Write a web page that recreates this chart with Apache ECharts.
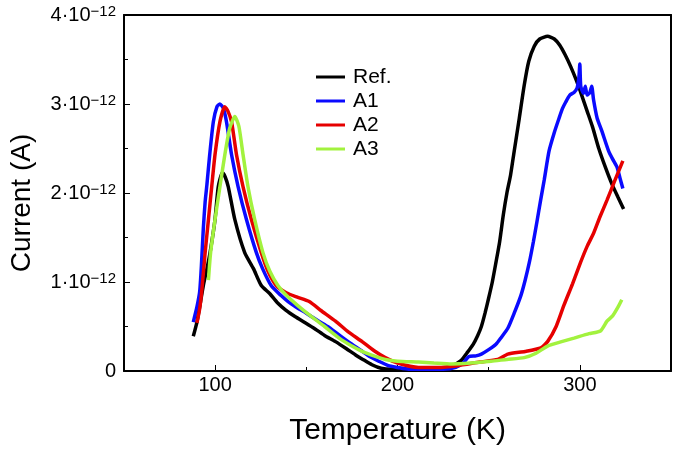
<!DOCTYPE html>
<html>
<head>
<meta charset="utf-8">
<script src="https://cdn.jsdelivr.net/npm/echarts@6/dist/echarts.min.js"></script>
<style>html,body{margin:0;padding:0;background:#fff}#c{width:675px;height:451px}</style>
</head>
<body>
<div id="c"></div>
<script>
// Temperature (K) and current (units of 1e-12 A)
const refT = [88,90,92,93.5,95.5,97.2,99.9,101.7,104,105.5,107.2,110.8,116.2,121,125.3,129.9,134,138.7,144,149.6,155,160,166,172,177,181,186,191,197,205,215,225,230,235,238,241.5,244,246,248,250,252,254,256,258,260,262,264,266.8,269.5,272,275,278,282.3,286,289,292,295,298,301,304,307,310.4,314,317.6,321,324];
const refI = [0.39,0.55,0.78,0.96,1.15,1.33,1.70,2.07,2.23,2.18,2.07,1.70,1.33,1.15,0.96,0.87,0.77,0.685,0.61,0.54,0.47,0.40,0.33,0.25,0.18,0.13,0.07,0.03,0.02,0.02,0.02,0.03,0.06,0.12,0.2,0.3,0.4,0.5,0.65,0.82,1.0,1.22,1.45,1.75,2.0,2.2,2.47,2.84,3.21,3.48,3.65,3.73,3.76,3.73,3.66,3.55,3.42,3.27,3.10,2.92,2.74,2.50,2.29,2.10,1.95,1.82];

const a1T = [88,90,91.5,92.5,93.5,94.5,95.5,97,99,101,102.6,104.5,106.2,109,112.6,117.2,122.6,126,130.7,136,140,144.3,150,156,162.5,169,175,180,185,189.7,195,200,206,215,225,232,236,239,243,246,250,254,257,260.5,264,267.7,270,272.3,274.5,276.5,278.5,280.5,283.1,286,288.6,290.5,292.2,294.5,296.8,298.5,299.5,300,300.5,302,303,304,305.5,306.5,307.5,309.5,312,315.8,318,320.4,322,323.6];
const a1I = [0.55,0.72,0.89,1.2,1.6,1.9,2.1,2.43,2.8,2.97,3.0,2.95,2.80,2.43,2.07,1.70,1.33,1.15,0.96,0.85,0.78,0.72,0.65,0.57,0.49,0.39,0.30,0.23,0.16,0.11,0.06,0.04,0.02,0.02,0.02,0.04,0.09,0.16,0.17,0.19,0.24,0.30,0.38,0.48,0.65,0.85,1.02,1.22,1.45,1.68,1.92,2.15,2.47,2.68,2.84,2.95,3.02,3.1,3.13,3.18,3.3,3.45,3.2,3.12,3.2,3.1,3.13,3.2,3.05,2.84,2.7,2.47,2.38,2.29,2.17,2.05];

const a2T = [90,91.5,92.6,94.5,96.3,98.1,99.9,102.6,105.3,107,109,111.7,115.3,119.9,125.3,129,133.5,139,145,151.6,158,166,173,180.6,187,193.3,200,211.5,222,233,245,255,260.5,270,278.6,282.3,287,291.3,296,300.4,304,307.6,311,314.9,319,323.6];
const a2I = [0.54,0.7,0.89,1.33,1.70,2.07,2.43,2.80,2.97,2.92,2.80,2.43,2.07,1.70,1.33,1.12,0.96,0.88,0.83,0.78,0.68,0.56,0.44,0.33,0.23,0.15,0.09,0.04,0.04,0.06,0.1,0.13,0.19,0.22,0.26,0.33,0.5,0.74,0.98,1.22,1.4,1.55,1.73,1.92,2.13,2.36];

const a3T = [96.3,97.5,99.9,102.6,105.3,108,110.8,113,115.3,118,121.7,126.2,130,134.4,139,145,151.6,160,168,175,180.6,187,193.3,200,211.5,220,229.6,240,251.4,260,269.5,276,282.3,290,296.8,305,311.3,314.9,318,321,323];
const a3I = [1.02,1.33,1.70,2.07,2.43,2.73,2.86,2.75,2.43,2.07,1.70,1.33,1.12,0.96,0.85,0.74,0.63,0.5,0.37,0.28,0.22,0.17,0.13,0.11,0.10,0.09,0.08,0.09,0.11,0.13,0.15,0.2,0.28,0.33,0.37,0.42,0.45,0.56,0.62,0.72,0.80];

const seriesNames = ['Ref.','A1','A2','A3'];
const seriesColors = ['#000000','#0a0aff','#e60000','#a2f23e'];
const xTicks = [100,200,300];
const xMinorTicks = [150,250];

const zip = (a,b) => a.map((v,i)=>[v,b[i]]);
const dataSets = [zip(refT,refI), zip(a1T,a1I), zip(a2T,a2I), zip(a3T,a3I)];

const FONT = 'Liberation Sans, Arial, Helvetica, sans-serif';
const chart = echarts.init(document.getElementById('c'), null, {renderer:'canvas'});
const frameLine = {show:true, lineStyle:{color:'#000', width:2}};
chart.setOption({
  animation:false,
  backgroundColor:'#fff',
  grid:{left:120, right:4, top:15, bottom:74, containLabel:false},
  legend:{
    orient:'vertical', left:311, top:61, icon:'rect', itemWidth:29, itemHeight:3, itemGap:2,
    data:seriesNames,
    textStyle:{fontFamily:FONT, fontSize:21, lineHeight:22, color:'#000', padding:[0,0,0,3]}
  },
  xAxis:[
    {type:'value', min:50, max:350, position:'bottom',
     name:'Temperature (K)', nameLocation:'middle', nameGap:45,
     nameTextStyle:{fontFamily:FONT, fontSize:30, color:'#000'},
     axisLine:frameLine,
     axisTick:{show:true, inside:true, length:6, customValues:xTicks, lineStyle:{color:'#000', width:1}},
     axisLabel:{show:true, customValues:xTicks, fontFamily:FONT, fontSize:20, color:'#000', margin:4},
     splitLine:{show:false}},
    {type:'value', min:50, max:350, position:'bottom',
     axisLine:{show:false},
     axisTick:{show:true, inside:true, length:4, customValues:xMinorTicks, lineStyle:{color:'#000', width:1}},
     axisLabel:{show:false}, splitLine:{show:false}},
    {type:'value', min:50, max:350, position:'top',
     axisLine:frameLine, axisTick:{show:false}, axisLabel:{show:false}, splitLine:{show:false}}
  ],
  yAxis:[
    {type:'value', min:0, max:4, interval:1, position:'left',
     name:'Current (A)', nameLocation:'middle', nameGap:88,
     nameTextStyle:{fontFamily:FONT, fontSize:28, color:'#000', padding:[0,20,0,0]},
     axisLine:frameLine,
     axisTick:{show:true, inside:true, length:6, lineStyle:{color:'#000', width:1}},
     minorTick:{show:true, splitNumber:2, length:4, lineStyle:{color:'#000', width:1}},
     axisLabel:{fontFamily:FONT, color:'#000', margin:8,
       formatter: v => v === 0 ? '{b|0}' : '{b|' + v + '·10}{s|−12}',
       rich:{b:{fontFamily:FONT, fontSize:20, color:'#000'}, s:{fontFamily:FONT, fontSize:15, color:'#000', padding:[0,0,6,0]}}},
     splitLine:{show:false}},
    {type:'value', min:0, max:4, position:'right',
     axisLine:frameLine, axisTick:{show:false}, axisLabel:{show:false}, splitLine:{show:false}}
  ],
  series: dataSets.map((d,i)=>({
    name:seriesNames[i], type:'line', xAxisIndex:0, yAxisIndex:0,
    data:d, showSymbol:false, smooth:0.2,
    itemStyle:{color:seriesColors[i]},
    lineStyle:{color:seriesColors[i], width:3.5}
  }))
});
</script>
</body>
</html>
